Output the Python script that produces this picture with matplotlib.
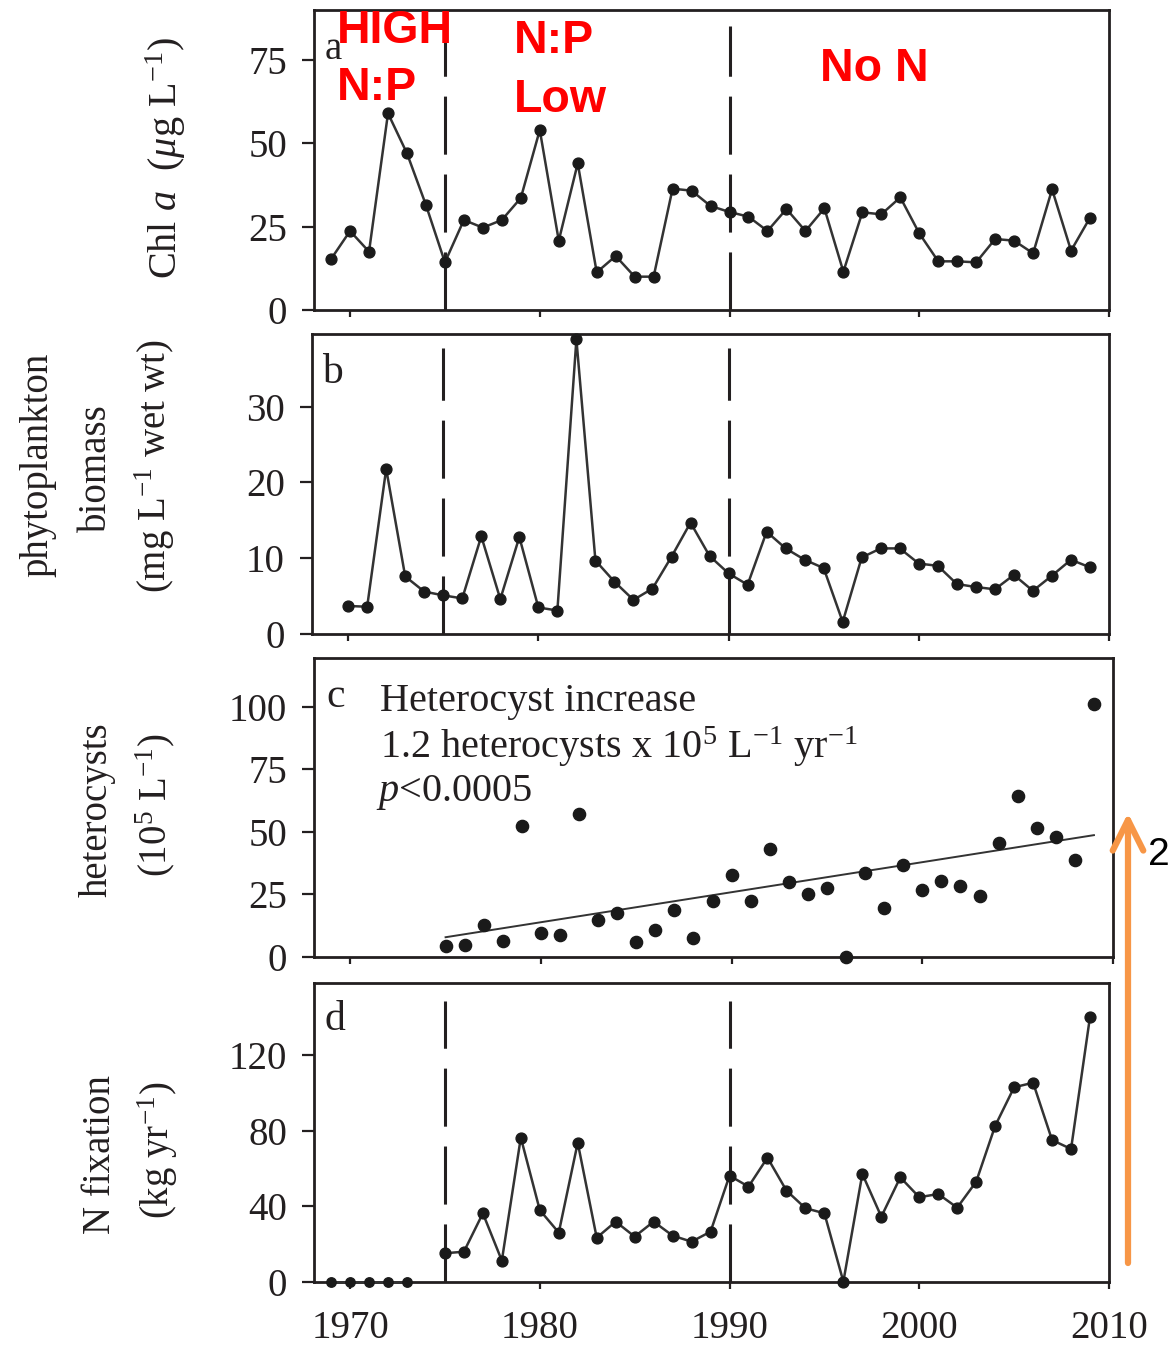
import matplotlib
matplotlib.use("Agg")
import matplotlib.pyplot as plt
import numpy as np
from matplotlib.patches import FancyArrowPatch

# ---- data ----
years_a = list(range(1969, 2010))
chl_a = [15.3, 23.7, 17.5, 59, 47, 31.5, 14.3, 27, 24.7, 27, 33.6,
         54, 20.8, 44, 11.3, 16.2, 10, 10, 36.4, 35.8, 31.2,
         29.4, 28, 23.7, 30.3, 23.7, 30.5, 11.5, 29.3, 28.7, 33.8,
         23, 14.6, 14.6, 14.3, 21.3, 20.8, 17, 36.2, 17.8, 27.7]

years_b = list(range(1970, 2010))
biomass = [3.7, 3.6, 21.8, 7.6, 5.6, 5.1, 4.7, 12.9, 4.6, 12.8,
           3.5, 3.1, 38.9, 9.7, 6.9, 4.5, 6.0, 10.2, 14.7, 10.3,
           8.0, 6.5, 13.5, 11.3, 9.8, 8.7, 1.6, 10.1, 11.3, 11.3,
           9.3, 9.0, 6.6, 6.2, 5.9, 7.8, 5.7, 7.7, 9.8, 8.8]

years_c = list(range(1975, 2010))
heterocysts = [4.4, 4.8, 12.8, 6.4, 52.4,
               9.7, 8.8, 57, 14.8, 17.4, 5.9, 10.8, 18.8, 7.7, 22.5,
               32.6, 22.5, 43.1, 30.1, 25.1, 27.4, 0.1, 33.7, 19.4, 36.7,
               26.7, 30.5, 28.3, 24.4, 45.4, 64.4, 51.6, 48, 38.7, 101]
trend_years = [1975, 2009]
trend_values = [7.9, 48.7]

years_d_early = [1969, 1970, 1971, 1972, 1973]
nfix_early = [0, 0, 0, 0, 0]
years_d = list(range(1975, 2010))
nfix = [15.2, 16, 36.3, 11.3, 76.3,
        38, 26.1, 73.6, 23.4, 31.9, 24, 31.9, 24.5, 21.3, 26.6,
        56.2, 50.4, 65.7, 48.3, 39, 36.3, 0.2, 57.1, 34.5, 55.3,
        44.8, 46.5, 39.3, 53, 82.5, 102.9, 105.3, 75, 70.3, 140.2]

period_breaks = [1975, 1990]
xtick_years = [1970, 1980, 1990, 2000, 2010]

# ---- style ----
plt.rcParams["font.family"] = ["Liberation Serif", "DejaVu Serif"]
plt.rcParams["mathtext.fontset"] = "custom"
plt.rcParams["mathtext.rm"] = "Liberation Serif"
plt.rcParams["mathtext.it"] = "Liberation Serif:italic"
plt.rcParams["mathtext.bf"] = "Liberation Serif:bold"

INK = "#231f20"
W, H = 1168, 1349
FS = 28

fig = plt.figure(figsize=(W / 100, H / 100), dpi=100)


def box(left, top, right, bottom):
    return [left / W, 1 - bottom / H, (right - left) / W, (bottom - top) / H]


def fx(x):
    return x / W


def fy(y):
    return 1 - y / H


def style_axes(ax, yticks, ylim, show_xlabels=False):
    ax.set_xlim(1968.1, 2010)
    ax.set_ylim(*ylim)
    ax.set_xticks(xtick_years)
    ax.set_yticks(yticks)
    for spine in ax.spines.values():
        spine.set_linewidth(2.0)
        spine.set_color(INK)
    ax.tick_params(axis="y", direction="out", length=8.5, width=1.6,
                   pad=11, labelsize=FS, colors=INK)
    ax.tick_params(axis="x", direction="out", length=5, width=1.6,
                   pad=15, labelsize=FS, colors=INK,
                   labelbottom=show_xlabels)


def period_lines(ax, ymax):
    for year in period_breaks:
        ax.axvline(year, ymin=0, ymax=ymax, color=INK, lw=2.2,
                   linestyle=(0, (19, 6.5)), zorder=1)


line_kw = dict(color="#333333", lw=1.8, marker="o", markersize=7.8,
               markerfacecolor="#1a1a1a", markeredgecolor="#1a1a1a",
               zorder=3, clip_on=False)

# panel a
ax_a = fig.add_axes(box(314, 10, 1109, 310))
ax_a.plot(years_a, chl_a, **line_kw)
period_lines(ax_a, 0.947)
style_axes(ax_a, [0, 25, 50, 75], (0, 90))
fig.text(fx(325), fy(59), "a", fontsize=FS, ha="left", va="baseline",
         color=INK)

# panel b
ax_b = fig.add_axes(box(312, 334, 1109, 634))
ax_b.plot(years_b, biomass, **line_kw)
period_lines(ax_b, 0.953)
style_axes(ax_b, [0, 10, 20, 30], (0, 39.6))
fig.text(fx(322), fy(383), "b", fontsize=FS + 2, ha="left", va="baseline",
         color=INK)

# panel c
ax_c = fig.add_axes(box(314, 658, 1113, 957))
ax_c.plot(years_c, heterocysts, linestyle="none", marker="o",
          markersize=8.8, color="#1a1a1a", zorder=3, clip_on=False)
ax_c.plot(trend_years, trend_values, color="#333333", lw=1.4, zorder=2)
style_axes(ax_c, [0, 25, 50, 75, 100], (0, 119.5))
fig.text(fx(326), fy(707), "c", fontsize=FS + 2, ha="left", va="baseline",
         color=INK)
fig.text(fx(380), fy(711), "Heterocyst increase", fontsize=FS + 1,
         ha="left", va="baseline", color=INK)
fig.text(fx(380), fy(758),
         r"1.2 heterocysts x 10$^{5}$ L$^{-1}$ yr$^{-1}$", fontsize=FS + 1,
         ha="left", va="baseline", color=INK)
fig.text(fx(376), fy(801), r"$p$<0.0005", fontsize=FS + 1,
         ha="left", va="baseline", color=INK)

# panel d
ax_d = fig.add_axes(box(314, 983, 1109, 1282))
ax_d.plot(years_d_early, nfix_early, **dict(line_kw, markersize=6.8))
ax_d.plot(years_d, nfix, **line_kw)
period_lines(ax_d, 0.94)
style_axes(ax_d, [0, 40, 80, 120], (0, 158), show_xlabels=True)
fig.text(fx(325), fy(1030), "d", fontsize=FS + 2, ha="left", va="baseline",
         color=INK)

# y-axis labels
fig.text(fx(166), fy(158), r"Chl $a$  ($\mu$g L$^{-1}$)", rotation=90,
         fontsize=FS + 1, ha="center", va="center", color=INK)
fig.text(fx(38), fy(465), "phytoplankton", rotation=90,
         fontsize=FS, ha="center", va="center", color=INK)
fig.text(fx(96), fy(468), "biomass", rotation=90,
         fontsize=FS, ha="center", va="center", color=INK)
fig.text(fx(155), fy(466), r"(mg L$^{-1}$ wet wt)", rotation=90,
         fontsize=FS, ha="center", va="center", color=INK)
fig.text(fx(97), fy(810), "heterocysts", rotation=90,
         fontsize=FS, ha="center", va="center", color=INK)
fig.text(fx(155), fy(805), r"(10$^{5}$ L$^{-1}$)", rotation=90,
         fontsize=FS, ha="center", va="center", color=INK)
fig.text(fx(100), fy(1155), "N fixation", rotation=90,
         fontsize=FS, ha="center", va="center", color=INK)
fig.text(fx(158), fy(1150), r"(kg yr$^{-1}$)", rotation=90,
         fontsize=FS, ha="center", va="center", color=INK)

# red period annotations
red_kw = dict(color="#ff0000", fontsize=33.5, fontweight="bold",
              family=["Liberation Sans", "DejaVu Sans"],
              ha="left", va="baseline")
fig.text(fx(337), fy(43), "HIGH", **red_kw)
fig.text(fx(337), fy(100), "N:P", **red_kw)
fig.text(fx(514), fy(53), "N:P", **red_kw)
fig.text(fx(514), fy(112), "Low", **red_kw)
fig.text(fx(820), fy(81), "No N", **red_kw)

# orange arrow and label at right edge
arrow = FancyArrowPatch((fx(1128), fy(1263)), (fx(1128), fy(813)),
                        transform=fig.transFigure,
                        arrowstyle="->,head_length=22,head_width=11",
                        color="#f79646", lw=4.5, shrinkA=0, shrinkB=0,
                        capstyle="round", joinstyle="round")
fig.add_artist(arrow)
fig.text(fx(1148), fy(865), "2", fontsize=28,
         family=["Liberation Sans", "DejaVu Sans"], ha="left",
         va="baseline", color="black")

fig.savefig("out.png", dpi=100, facecolor="white")
